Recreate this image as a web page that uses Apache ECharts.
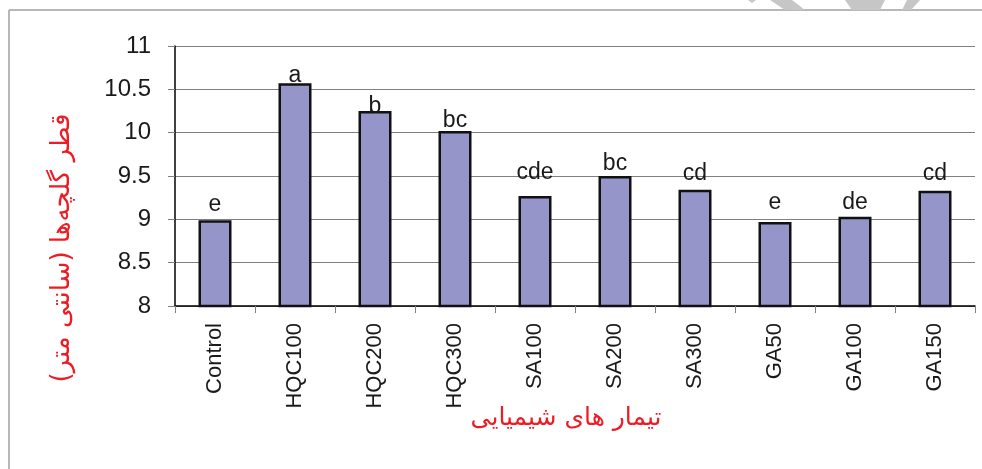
<!DOCTYPE html>
<html>
<head>
<meta charset="utf-8">
<script src="https://cdn.jsdelivr.net/npm/echarts@6/dist/echarts.min.js"></script>
<style>
  html, body { margin: 0; padding: 0; background: #fff; }
  #chart { width: 982px; height: 469px; }
</style>
</head>
<body>
<div id="chart"></div>
<script>
// treatments and flower diameter (cm)
const categories = ["Control", "HQC100", "HQC200", "HQC300", "SA100", "SA200", "SA300", "GA50", "GA100", "GA150"];
const diameters = [8.99, 10.57, 10.25, 10.02, 9.27, 9.50, 9.34, 8.97, 9.03, 9.33];
const letters = ["e", "a", "b", "bc", "cde", "bc", "cd", "e", "de", "cd"];
const yTicks = [8, 8.5, 9, 9.5, 10, 10.5, 11];

const yTitle = "قطر گلچه‌ها (سانتی متر)";
const xTitle = "تیمار های شیمیایی";

// letters in the source sit at slightly different heights above each bar
const letterGap = [4, -4, -7, -1, 12, 1, 5, 8, 3, 6];

const chart = echarts.init(document.getElementById("chart"));

const font = "Liberation Sans, Arial, sans-serif";

let option = {
  animation: false,
  grid: { left: 175, right: 7, top: 46, bottom: 163, containLabel: false },
  xAxis: {
    type: "category",
    data: categories,
    axisLine: { lineStyle: { color: "#000", width: 1.5 } },
    axisTick: { show: true, length: 7, alignWithLabel: false, lineStyle: { color: "#808080" } },
    axisLabel: {
      rotate: 90,
      margin: 17,
      fontSize: 22,
      fontFamily: font,
      color: "#1a1a1a",
      interval: 0,
    },
  },
  yAxis: {
    type: "value",
    min: yTicks[0],
    max: yTicks[yTicks.length - 1],
    interval: 0.5,
    axisLine: { show: true, lineStyle: { color: "#000", width: 1.5 } },
    axisTick: { show: true, length: 7, lineStyle: { color: "#808080" } },
    splitLine: { lineStyle: { color: "#808080", width: 1 } },
    axisLabel: {
      margin: 24,
      fontSize: 24,
      fontFamily: font,
      color: "#1a1a1a",
    },
  },
  series: [
    {
      type: "bar",
      barWidth: 33,
      data: diameters.map((v, i) => ({
        value: v,
        label: { distance: letterGap[i] },
      })),
      itemStyle: { color: "#9595C9", borderColor: "#111", borderWidth: 2.5 },
      label: {
        show: true,
        position: "top",
        fontSize: 23,
        fontFamily: font,
        color: "#1a1a1a",
        formatter: (p) => letters[p.dataIndex],
      },
    },
  ],
  graphic: [
    // page frame
    { type: "line", shape: { x1: 9, y1: 10, x2: 982, y2: 10 }, style: { stroke: "#a0a0a0", lineWidth: 1.5 } },
    { type: "line", shape: { x1: 9, y1: 10, x2: 9, y2: 469 }, style: { stroke: "#a0a0a0", lineWidth: 1.5 } },
    // faint watermark pieces at the top edge
    { type: "polygon", shape: { points: [[748, 0], [756, 0], [752, 3]] }, style: { fill: "#c6c6c6" } },
    { type: "polygon", shape: { points: [[770, 0], [792, 0], [805, 10], [785, 10]] }, style: { fill: "#c6c6c6" } },
    { type: "polygon", shape: { points: [[845, 0], [885, 0], [880, 10], [852, 10]] }, style: { fill: "#c6c6c6" } },
    { type: "polygon", shape: { points: [[907, 0], [920, 0], [911, 10], [902, 10]] }, style: { fill: "#c6c6c6" } },
    {
      type: "text",
      x: 62,
      y: 248,
      rotation: Math.PI / 2,
      style: {
        text: yTitle,
        fill: "#ED1C24",
        fontSize: 26,
        fontFamily: "DejaVu Sans, sans-serif",
        align: "center",
        verticalAlign: "middle",
      },
    },
    {
      type: "text",
      x: 566,
      y: 418,
      style: {
        text: xTitle,
        fill: "#ED1C24",
        fontSize: 25,
        fontFamily: "DejaVu Sans, sans-serif",
        align: "center",
        verticalAlign: "middle",
      },
    },
  ],
};

chart.setOption(option);
</script>
</body>
</html>
